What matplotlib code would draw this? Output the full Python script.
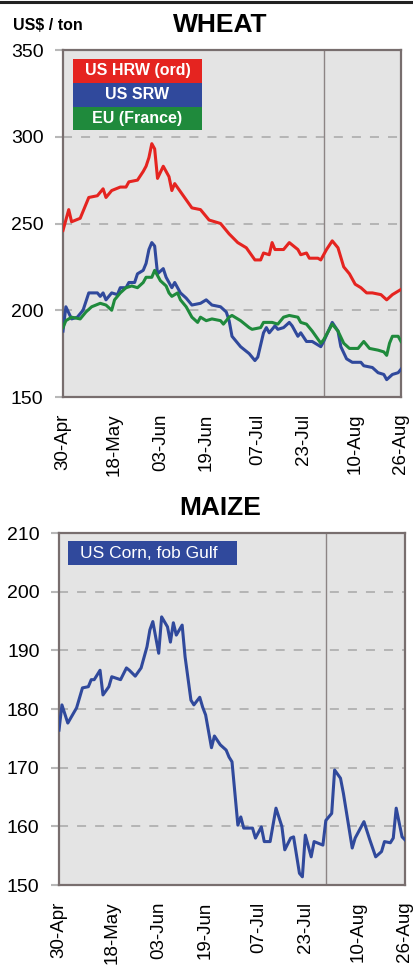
import matplotlib
matplotlib.use("Agg")
import matplotlib.pyplot as plt
import matplotlib.dates as mdates
from matplotlib.patches import Rectangle
from matplotlib.lines import Line2D
import pandas as pd

plt.rcParams['font.family'] = ['Liberation Sans', 'DejaVu Sans']

# dates are given as days after 30 April 2009
start = pd.Timestamp('2009-04-30')

hrw_day = [0, 2, 3, 6, 9, 12, 14, 15, 17, 20, 22, 23, 26, 28, 29, 30, 31, 32, 33, 35,
           37, 38, 39, 42, 45, 48, 51, 55, 58, 61, 64, 67, 69, 70, 72, 73, 74, 77, 79,
           82, 83, 85, 86, 89, 90, 92, 94, 96, 98, 100, 102, 104, 106, 108, 111, 113,
           115, 118]
hrw_val = [246, 258, 251, 253, 265, 266, 270, 265, 269, 271, 271, 274, 275, 280, 283,
           288, 296, 293, 276, 283, 277, 269, 273, 266, 259, 258, 252, 250, 244, 239,
           236, 229, 229, 233, 232, 239, 235, 235, 239, 235, 232, 233, 230, 230, 229,
           235, 240, 236, 225, 221, 215, 213, 210, 210, 209, 206, 209, 212]

srw_day = [0, 1, 3, 5, 7, 9, 12, 13, 14, 15, 17, 19, 20, 22, 23, 25, 26, 28, 29, 30,
           31, 32, 33, 35, 36, 38, 39, 41, 43, 45, 48, 50, 52, 55, 57, 58, 59, 62, 65,
           67, 68, 70, 71, 72, 74, 75, 77, 79, 80, 82, 83, 85, 87, 90, 91, 94, 96, 97,
           99, 101, 103, 104, 105, 108, 110, 112, 113, 115, 117, 118]
srw_val = [188, 202, 195, 196, 200, 210, 210, 208, 210, 206, 210, 209, 213, 213, 216,
           216, 221, 223, 227, 235, 239, 237, 221, 224, 219, 213, 216, 210, 207, 203,
           204, 206, 203, 202, 199, 194, 185, 179, 175, 171, 173, 187, 190, 187, 191,
           189, 190, 193, 191, 185, 187, 182, 182, 179, 182, 193, 188, 179, 172, 170,
           170, 170, 168, 167, 164, 163, 160, 163, 164, 166]

eu_day = [0, 1, 3, 6, 8, 10, 13, 15, 17, 18, 20, 22, 24, 26, 28, 29, 31, 32, 34, 36,
          37, 38, 40, 41, 43, 45, 47, 48, 50, 52, 55, 56, 58, 59, 62, 65, 66, 69, 70,
          73, 75, 77, 79, 82, 83, 85, 87, 90, 91, 94, 96, 98, 100, 103, 105, 107, 110,
          112, 113, 114, 115, 117, 118]
eu_val = [190, 194, 196, 195, 199, 202, 204, 203, 200, 206, 210, 213, 214, 213, 216,
          219, 219, 223, 217, 214, 210, 208, 210, 206, 202, 196, 193, 196, 194, 195,
          194, 192, 196, 197, 194, 190, 189, 190, 193, 193, 192, 196, 197, 196, 193,
          192, 188, 181, 183, 192, 188, 181, 178, 178, 182, 178, 177, 176, 174, 181,
          185, 185, 182]

corn_day = [0, 1, 3, 6, 8, 10, 11, 12, 14, 15, 17, 18, 21, 23, 24, 26, 28, 30, 31, 32,
            34, 35, 37, 38, 39, 40, 42, 43, 45, 46, 48, 49, 50, 52, 53, 55, 57, 58, 59,
            61, 62, 63, 66, 67, 69, 70, 72, 74, 76, 77, 79, 80, 82, 83, 84, 86, 87, 90,
            91, 93, 94, 96, 97, 100, 101, 104, 106, 108, 110, 111, 113, 114, 115, 117,
            118]
corn_val = [176.4, 180.7, 177.6, 180.2, 183.6, 183.8, 185.0, 185.0, 186.6, 182.4, 183.8,
            185.5, 185.0, 187.0, 186.6, 185.6, 187.0, 190.6, 193.5, 194.9, 189.5, 195.7,
            194.0, 191.4, 194.7, 192.6, 194.3, 188.9, 181.5, 180.7, 182.0, 180.3, 179.0,
            173.4, 175.4, 173.9, 173.0, 171.8, 171.0, 160.2, 161.6, 159.7, 159.7, 158.0,
            159.9, 157.4, 157.4, 163.1, 160.0, 156.0, 158.0, 158.2, 152.0, 151.4, 158.5,
            154.8, 157.4, 156.8, 161.0, 162.2, 169.6, 168.2, 165.6, 156.3, 158.0, 160.8,
            157.7, 154.8, 155.7, 157.4, 157.2, 158.0, 163.1, 158.2, 157.7]

tick_day = [0, 18, 34, 50, 68, 84, 102, 118]
marker_day = 91   # vertical separator line

wheat_names = ['US HRW (ord)', 'US SRW', 'EU (France)']
wheat_colors = ['#e52420', '#30499c', '#1f8a3c']
corn_name = 'US Corn, fob Gulf'


def to_dates(days):
    return [start + pd.Timedelta(days=d) for d in days]


def style_axis(ax, ylim, yticks):
    ax.set_facecolor('#e4e4e4')
    ax.set_xlim(to_dates([0])[0], to_dates([118])[0])
    ax.set_ylim(*ylim)
    ax.set_yticks(yticks)
    for y in yticks[1:-1]:
        ax.axhline(y, color='#b0b0b0', lw=1.3, ls=(0, (5, 5)), zorder=1)
    ax.axvline(to_dates([marker_day])[0], color='#8c8484', lw=1.0, zorder=1)
    ax.set_xticks(to_dates(tick_day))
    ax.xaxis.set_major_formatter(mdates.DateFormatter('%d-%b'))
    ax.tick_params(axis='x', labelrotation=90, length=0, pad=12, labelsize=13.5)
    ax.tick_params(axis='y', length=6, width=1.5, color='#b8b8b8', pad=8, labelsize=14)
    for lab in ax.get_xticklabels():
        lab.set_ha('center')
    for s in ax.spines.values():
        s.set_color('#786e6e')
        s.set_linewidth(1.6)


fig = plt.figure(figsize=(4.14, 9.67), dpi=100)
fig.add_artist(Line2D([0, 1], [0.9975, 0.9975], color='#222222', lw=2.2))

# wheat panel
ax1 = fig.add_axes([63 / 414, 1 - 397 / 967, 338 / 414, 347 / 967])
style_axis(ax1, (150, 350), [150, 200, 250, 300, 350])
for days, vals, c in [(hrw_day, hrw_val, wheat_colors[0]),
                      (srw_day, srw_val, wheat_colors[1]),
                      (eu_day, eu_val, wheat_colors[2])]:
    ax1.plot(to_dates(days), vals, color=c, lw=2.2, zorder=3)

# stacked colour legend
row_h = 0.0685
for i, (name, c) in enumerate(zip(wheat_names, wheat_colors)):
    y0 = 0.974 - (i + 1) * row_h
    ax1.add_patch(Rectangle((0.03, y0), 0.381, row_h, transform=ax1.transAxes,
                            facecolor=c, edgecolor='none', zorder=4))
    ax1.text(0.03 + 0.381 / 2, y0 + row_h / 2, name, transform=ax1.transAxes,
             color='white', fontsize=11.5, fontweight='bold', ha='center',
             va='center', zorder=5)
fig.text(220 / 414, 1 - 25 / 967, 'WHEAT', fontsize=19, fontweight='bold',
         ha='center', va='center')
fig.text(13 / 414, 1 - 25 / 967, 'US$ / ton', fontsize=11.5, fontweight='bold',
         ha='left', va='center')

# maize panel
ax2 = fig.add_axes([59 / 414, 1 - 885 / 967, 346 / 414, 352 / 967])
style_axis(ax2, (150, 210), [150, 160, 170, 180, 190, 200, 210])
ax2.plot(to_dates(corn_day), corn_val, color='#30499c', lw=2.2, zorder=3)
ax2.add_patch(Rectangle((0.026, 0.909), 0.488, 0.068, transform=ax2.transAxes,
                        facecolor='#30499c', edgecolor='none', zorder=4))
ax2.text(0.061, 0.943, corn_name, transform=ax2.transAxes, color='white',
         fontsize=12.5, ha='left', va='center', zorder=5)
fig.text(220 / 414, 1 - 508 / 967, 'MAIZE', fontsize=19, fontweight='bold',
         ha='center', va='center')

fig.savefig('out.png', dpi=100, facecolor='white')
